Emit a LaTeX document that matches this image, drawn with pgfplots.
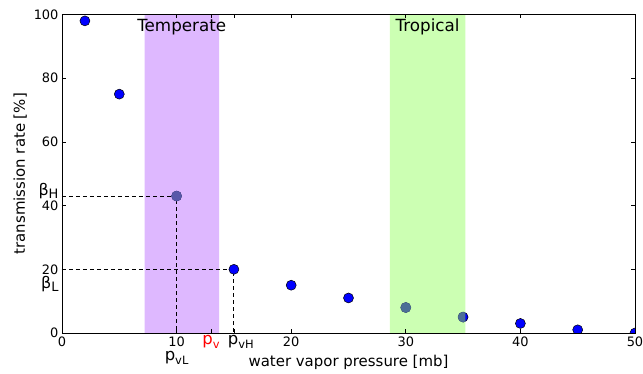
\documentclass[border=0pt]{standalone}
\usepackage{fontspec}
\setmainfont{DejaVu Sans}
\usepackage{pgfplots}
\pgfplotsset{compat=1.18}
\definecolor{tempband}{RGB}{222,184,255}
\definecolor{tropband}{RGB}{204,255,179}
\definecolor{ptblue}{RGB}{0,0,255}
\definecolor{tempgray}{RGB}{88,88,168}
\definecolor{tropgray}{RGB}{76,110,150}
\newcommand{\bsub}[1]{β\raisebox{-3bp}{\fontsize{13}{15}\selectfont #1}}
\newcommand{\psub}[1]{p\raisebox{-3.5bp}{\fontsize{11.5}{13}\selectfont #1}}
\begin{document}
\begin{tikzpicture}
\useasboundingbox (-62bp,-41bp) rectangle (581bp,333bp);
\begin{axis}[at={(0,0)}, anchor=south west, scale only axis,
  width=573bp, height=318.5bp,
  xmin=0, xmax=50, ymin=0, ymax=100,
  xtick={0,10,...,50}, ytick={0,20,...,100},
  extra x ticks={13,15},
  extra x tick labels={\textcolor{red}{\psub{v}}, \hspace*{14bp}\psub{vH}},
  extra x tick style={xticklabel style={font=\fontsize{16.5}{18}\selectfont, yshift=1bp}},
  extra y ticks={44.7,15.5},
  extra y tick labels={\bsub{H},\bsub{L}},
  extra y tick style={major tick length=0pt, yticklabel style={font=\fontsize{16}{18}\selectfont}},
  tick align=inside, major tick length=4bp,
  xtick pos=both, ytick pos=both,
  axis line style={black, line width=0.8bp},
  tick style={black, line width=0.6bp},
  /pgf/number format/assume math mode=true,
  tick label style={font=\fontsize{13}{15}\selectfont},
  label style={font=\fontsize{15}{17}\selectfont},
  xlabel={water vapor pressure [mb]},
  ylabel={transmission rate [\%]},
  xlabel style={at={(axis description cs:0.5,-0.091)}, anchor=center},
  ylabel style={at={(axis description cs:-0.073,0.5)}, anchor=center},
  axis on top,
  clip marker paths=true,
]
% bands
\addplot[draw=none, fill=tempband] coordinates {(7.2,0) (13.7,0) (13.7,100) (7.2,100)} \closedcycle;
\addplot[draw=none, fill=tropband] coordinates {(28.6,0) (35.2,0) (35.2,100) (28.6,100)} \closedcycle;
% dashed guides
\addplot[black, line width=0.8bp, dash pattern=on 4bp off 3bp] coordinates {(0,43) (10,43) (10,0)};
\addplot[black, line width=0.8bp, dash pattern=on 4bp off 3bp] coordinates {(0,20) (15,20) (15,0)};
% points
\addplot[only marks, mark=*, mark size=5bp, mark options={fill=ptblue, draw=black, line width=0.5bp}]
  coordinates {(2,98) (5,75) (10,43) (15,20) (20,15) (25,11) (30,8) (35,5) (40,3) (45,1) (50,0)};
\begin{scope}
\clip (axis cs:7.2,0) rectangle (axis cs:13.7,100);
\addplot[only marks, mark=*, mark size=5bp, mark options={fill=tempgray, draw=tempgray, line width=0.5bp}]
  coordinates {(10,43)};
\end{scope}
\begin{scope}
\clip (axis cs:28.6,0) rectangle (axis cs:35.2,100);
\addplot[only marks, mark=*, mark size=5bp, mark options={fill=tropgray, draw=tropgray, line width=0.5bp}]
  coordinates {(30,8) (35,5)};
\end{scope}
\node[font=\fontsize{16.8}{18}\selectfont] at (axis cs:10.45,96) {Temperate};
\node[font=\fontsize{16.8}{18}\selectfont] at (axis cs:31.9,96) {Tropical};
\coordinate (pvl) at (axis cs:10,0);
\end{axis}
\node[font=\fontsize{16.5}{18}\selectfont, anchor=center] at ([yshift=-25bp]pvl) {\psub{vL}};
\end{tikzpicture}
\end{document}
